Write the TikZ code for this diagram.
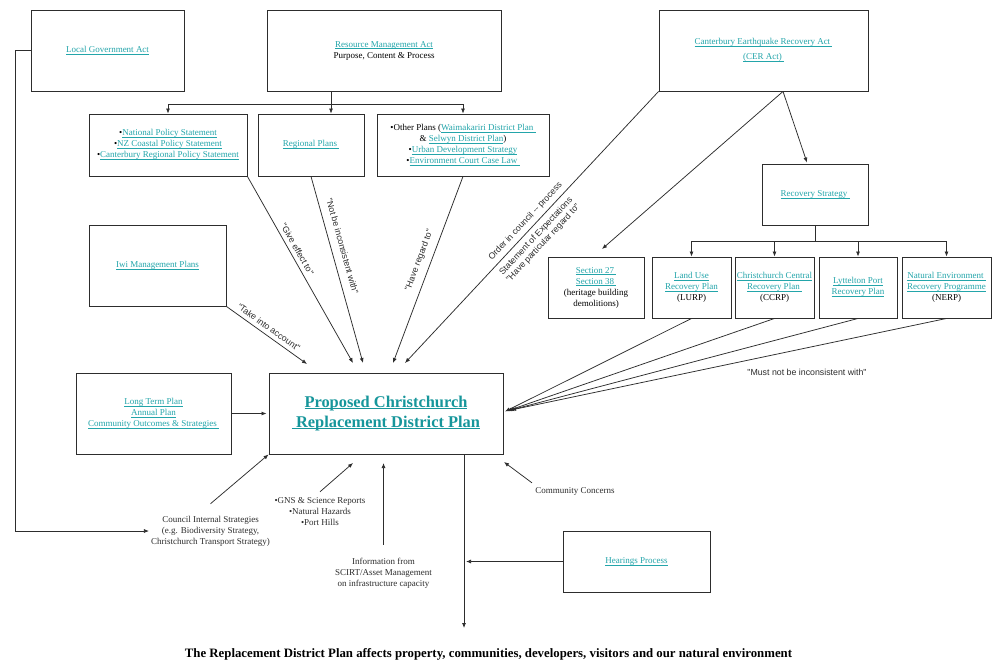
\documentclass[tikz,border=0pt]{standalone}
\usepackage{fontspec}
\setmainfont{Liberation Serif}
\newfontfamily\lsans{Liberation Sans}
\usetikzlibrary{arrows.meta}
\definecolor{link}{RGB}{35,165,170}
\definecolor{ttl}{RGB}{22,150,155}
\definecolor{ln}{RGB}{45,45,45}
\newcommand\lnk[1]{\textcolor{link}{\underline{\smash{#1}}}\vphantom{Ay}}
\newcommand\tlnk[1]{\textcolor{ttl}{\underline{\smash{#1}}}\vphantom{Ay}}
\begin{document}
\begin{tikzpicture}[x=1pt,y=-1pt,
  font=\fontsize{9}{11}\selectfont,
  box/.style={draw=ln, line width=0.9pt, inner sep=0pt, align=center, fill=white},
  txt/.style={inner sep=0pt, align=center, text=ln},
  arr/.style={draw=ln, line width=0.75pt, -{Latex[length=5pt,width=4pt]}},
  plain/.style={draw=ln, line width=0.75pt},
  lab/.style={font=\lsans\fontsize{8.8}{10}\selectfont, inner sep=1pt, text=ln}]
\useasboundingbox[fill=white] (0,0) rectangle (1000,665);

% boxes
\node[box, minimum width=153pt, minimum height=81pt] (lga) at (107.5,50.5) {\lnk{Local Government Act}};
\node[box, minimum width=234pt, minimum height=81pt] (rma) at (384,50.5) {\lnk{Resource Management Act}\\Purpose, Content \& Process};
\node[box, minimum width=209pt, minimum height=81pt] (cer) at (763.5,50.5) {\lnk{Canterbury Earthquake Recovery Act }\\[4pt]\lnk{(CER Act) }};
\node[box, minimum width=158pt, minimum height=62pt] (nps) at (168,145) {•\lnk{National Policy Statement}\\•\lnk{NZ Coastal Policy Statement}\\•\lnk{Canterbury Regional Policy Statement}};
\node[box, minimum width=106pt, minimum height=62pt] (rp) at (311,145) {\lnk{Regional Plans }};
\node[box, minimum width=172pt, minimum height=62pt] (op) at (463,145) {•Other Plans (\lnk{Waimakariri District Plan }\\\& \lnk{Selwyn District Plan})\\•\lnk{Urban Development Strategy}\\•\lnk{Environment Court Case Law }};
\node[box, minimum width=106pt, minimum height=61pt] (rs) at (815,194.5) {\lnk{Recovery Strategy }};
\node[box, minimum width=137pt, minimum height=81pt] (iwi) at (157.5,265.5) {\lnk{Iwi Management Plans}};
\node[box, minimum width=96pt, minimum height=61pt] (s27) at (596,287.5) {\lnk{Section 27 }\\\lnk{Section 38 }\\(heritage building\\demolitions)};
\node[box, minimum width=79pt, minimum height=61pt] (lurp) at (691.5,287.5) {\lnk{Land Use}\\\lnk{Recovery Plan}\\(LURP)};
\node[box, minimum width=79pt, minimum height=61pt] (ccrp) at (774.5,287.5) {\lnk{Christchurch Central}\\\lnk{Recovery Plan }\\(CCRP)};
\node[box, minimum width=78pt, minimum height=61pt] (lpr) at (858,287.5) {\lnk{Lyttelton Port}\\\lnk{Recovery Plan}};
\node[box, minimum width=89pt, minimum height=61pt] (nerp) at (946.5,287.5) {\lnk{Natural Environment }\\\lnk{Recovery Programme}\\(NERP)};
\node[box, minimum width=155pt, minimum height=81pt] (ltp) at (153.5,413.5) {\lnk{Long Term Plan}\\\lnk{Annual Plan}\\\lnk{Community Outcomes \& Strategies }};
\node[box, minimum width=234pt, minimum height=81pt, font=\fontsize{16.4}{20}\selectfont\bfseries] (main) at (386,413.5) {\tlnk{Proposed Christchurch}\\\tlnk{ Replacement District Plan}};
\node[box, minimum width=147pt, minimum height=61pt] (hp) at (636.5,561.5) {\lnk{Hearings Process}};

% free texts
\node[txt] (cic) at (210.5,531) {Council Internal Strategies\\(e.g. Biodiversity Strategy,\\Christchurch Transport Strategy)};
\node[txt] (gns) at (320,512) {•GNS \& Science Reports\\•Natural Hazards\\•Port Hills};
\node[txt] (info) at (383.5,573) {Information from\\SCIRT/Asset Management\\on infrastructure capacity};
\node[txt] (cc) at (575,491) {Community Concerns};
\node[lab] (mnt) at (807,372) {"Must not be inconsistent with"};
\node[txt, font=\fontsize{12.8}{14}\selectfont\bfseries, text=black] (bottom) at (488.5,654) {The Replacement District Plan affects property, communities, developers, visitors and our natural environment};

% coordinates
\coordinate (t1) at (307,364);
\coordinate (t2) at (353,363);
\coordinate (t3) at (363,363);
\coordinate (t4) at (393,363);
\coordinate (t5) at (405,363);
\coordinate (rj) at (331,104);
\coordinate (rsj) at (815,241);
\coordinate (s27t) at (602,249);
\coordinate (m1) at (505,411.5);
\coordinate (m2) at (507,411);
\coordinate (m3) at (509,410.5);
\coordinate (m4) at (511,410);
\coordinate (lgac) at (15,531);
\coordinate (gnst) at (353,463);
\coordinate (infot) at (383.5,463);
\coordinate (cct) at (504,462);
\coordinate (down) at (464,628);

% RMA distribution
\draw[plain] ([xshift=-53pt]rma.south) -- (rj);
\draw[arr] (rj) -| (nps.north);
\draw[arr] (rj) -- (rj |- rp.north);
\draw[arr] (rj) -| (op.north);

% Recovery distribution
\draw[plain] (rs.south) -- (rsj);
\draw[arr] (rsj) -| (lurp.north);
\draw[arr] (rsj) -| (ccrp.north);
\draw[arr] (rsj) -| (lpr.north);
\draw[arr] (rsj) -| (nerp.north);

% CER
\draw[arr] ([xshift=19.5pt]cer.south) -- (s27t);
\draw[arr] ([xshift=19.5pt]cer.south) -- ([xshift=-8pt,yshift=1pt]rs.north);

% into main top
\draw[arr] (iwi.south east) -- node[lab,sloped,above=3pt,pos=0.47]{"Take into account"} (t1);
\draw[arr] (nps.south east) -- node[lab,sloped,above=3pt,pos=0.41]{"Give effect to"} (t2);
\draw[arr] (rp.south) -- node[lab,sloped,above=7pt,pos=0.39]{"Not be inconsistent with"} (t3);
\draw[arr] (op.south) -- node[lab,sloped,above=6pt,pos=0.47]{"Have regard to"} (t4);
\draw[arr] (cer.south west) -- node[lab,sloped,above=3pt,pos=0.5]{Order in council -- process} node[lab,sloped,below=4pt,pos=0.51,align=center]{Statement of Expectations\\"Have particular regard to"} (t5);

% recovery plans into main
\draw[arr] (lurp.south) -- (m1);
\draw[arr] (ccrp.south) -- (m2);
\draw[arr] (lpr.south) -- (m3);
\draw[arr] (nerp.south) -- (m4);

% left and bottom
\draw[arr] (ltp.east) -- ([xshift=-2pt]ltp.east -| main.west);
\draw[arr] (lga.west) -| (lgac) -- ([xshift=-2pt]cic.west);
\draw[arr] ([yshift=12pt]cic.north) -- (main.south west);
\draw[arr] ([yshift=6pt]gns.north) -- (gnst);
\draw[arr] ([yshift=13pt]info.north) -- (infot);
\draw[arr] ([xshift=-43pt,yshift=4pt]cc.north) -- (cct);
\draw[arr] ([xshift=78pt]main.south) -- (down);
\draw[arr] (hp.west) -- ([xshift=2pt]hp.west -| down);
\end{tikzpicture}
\end{document}
